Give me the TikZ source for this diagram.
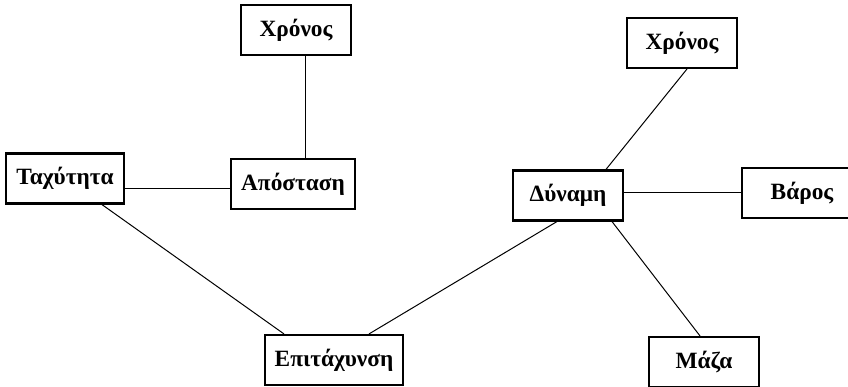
\documentclass[tikz,border=0pt]{standalone}
\usepackage{fontspec}
\setmainfont{Liberation Serif}
\usetikzlibrary{positioning}

\begin{document}
\begin{tikzpicture}[on grid,line width=0.75pt,
      box/.style={draw,line width=1.6pt,minimum width=82.5pt,minimum height=37.5pt,
        inner xsep=7.5pt,font=\fontsize{17.5}{21}\selectfont\bfseries}]
			\useasboundingbox (-219.75pt,-151.5pt) rectangle (416.25pt,138pt);
			\node[box] (apos) at (0,0) {Απόσταση};
			\node[box] (chrA) [above right=115.5pt and 2.25pt of apos] {Χρόνος};
			\node[box] (tach) [above left=4.1pt and 171pt of apos] {Ταχύτητα};
			\node[box] (epit) [below right=132pt and 30.75pt of apos] {Επιτάχυνση};
			\node[box] (dyn) [above right=123.4pt and 175.5pt of epit] {Δύναμη};
			\node[box] (chrB) [above right=114.4pt and 85.5pt of dyn] {Χρόνος};
			\node[box,minimum width=90pt] (var) [above right=1.9pt and 175.5pt of dyn] {Βάρος};
			\node[box] (maza) [below right=124.9pt and 102pt of dyn] {Μάζα};
			\coordinate (ka) at ([xshift=9pt]apos.north);
			\coordinate (kt) at ([yshift=-3pt]apos.west);
			\draw (ka) -- (ka |- chrA.south);
			\draw (kt) -- (kt -| tach.east);
			\draw ([xshift=27.75pt]tach.south) -- ([xshift=-37.5pt]epit.north);
			\draw ([xshift=26.25pt]epit.north) -- ([xshift=-8.25pt]dyn.south);
			\draw ([xshift=28.5pt]dyn.north) -- ([xshift=3.75pt]chrB.south);
			\draw ([yshift=1.9pt]dyn.east) -- (var.west);
			\draw ([xshift=33pt]dyn.south) -- ([xshift=-3pt]maza.north);
		\end{tikzpicture}
\end{document}
